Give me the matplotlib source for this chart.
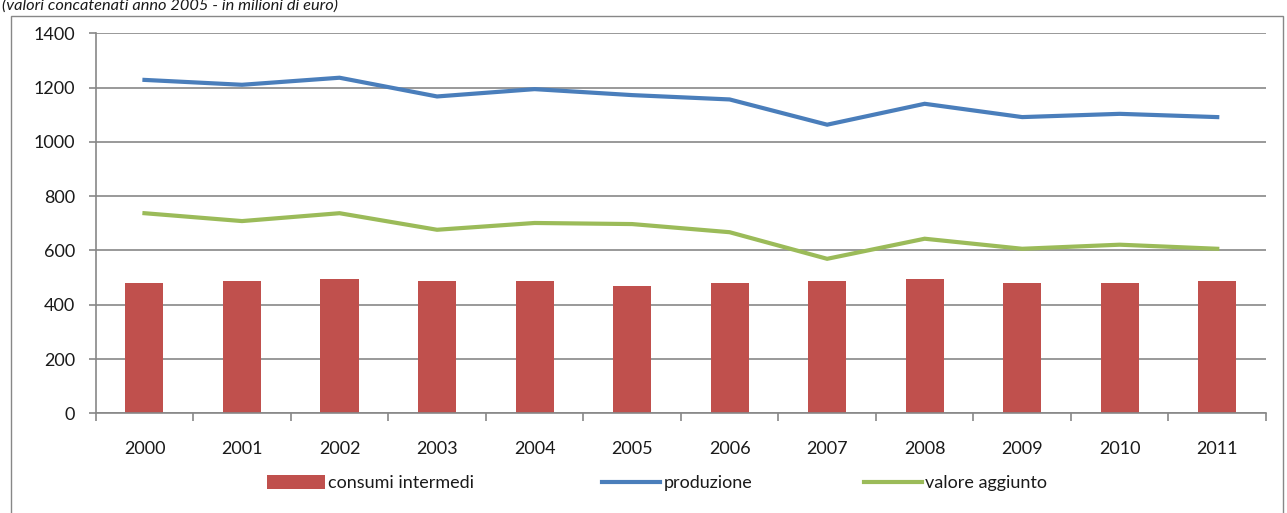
import matplotlib.pyplot as plt
import numpy as np
from matplotlib.patches import Rectangle

# data (valori concatenati anno 2005, milioni di euro)
anni = ["2000", "2001", "2002", "2003", "2004", "2005",
        "2006", "2007", "2008", "2009", "2010", "2011"]
consumi_intermedi = [481, 488, 496, 488, 488, 469, 481, 488, 496, 481, 481, 488]
produzione = [1228, 1210, 1236, 1167, 1194, 1172, 1156, 1063, 1140, 1091, 1103, 1091]
valore_aggiunto = [737, 708, 737, 676, 701, 697, 667, 569, 643, 606, 621, 606]
y_ticks = [0, 200, 400, 600, 800, 1000, 1200, 1400]

RED = "#C0504D"
BLUE = "#4A7EBB"
GREEN = "#9BBB59"
GRID = "#878787"
TXT = "#1a1a1a"

W, H = 1287, 513
plt.rcParams["font.family"] = ["Lato", "DejaVu Sans"]

fig = plt.figure(figsize=(W / 100, H / 100), dpi=100)
fig.patch.set_facecolor("white")

# outer chart frame (cut at the bottom, as in the screenshot)
fig.patches.append(Rectangle((11 / W, -0.1), (1283 - 11) / W, 1.1 - 16 / H,
                             transform=fig.transFigure, fill=False,
                             edgecolor=GRID, lw=1.0))

# caption, partly cut at the top
fig.text(2 / W, 1 - 10 / H, "(valori concatenati anno 2005 - in milioni di euro)",
         fontsize=11.8, style="italic", color=TXT, ha="left", va="baseline")

ax = fig.add_axes([95.7 / W, 1 - 413.3 / H, (1266 - 95.7) / W, (413.3 - 33.2) / H])

x = np.arange(len(anni))
bars = ax.bar(x, consumi_intermedi, width=0.39, color=RED, zorder=2,
              label="consumi intermedi")
l_prod, = ax.plot(x, produzione, color=BLUE, lw=3.0, zorder=3,
                  solid_joinstyle="miter", label="produzione")
l_va, = ax.plot(x, valore_aggiunto, color=GREEN, lw=3.0, zorder=3,
                solid_joinstyle="miter", label="valore aggiunto")

ax.set_xlim(-0.5, len(anni) - 0.5)
ax.set_ylim(0, 1400)
ax.set_yticks(y_ticks)
ax.set_yticklabels([str(v) for v in y_ticks])
ax.set_xticks(x)
ax.set_xticklabels(anni)
ax.set_xticks(np.arange(len(anni) + 1) - 0.5, minor=True)

ax.yaxis.grid(True, color=GRID, lw=1.2, zorder=0)
ax.set_axisbelow(True)

for side in ("top", "right"):
    ax.spines[side].set_visible(False)
for side in ("left", "bottom"):
    ax.spines[side].set_color(GRID)
    ax.spines[side].set_linewidth(1.2)

ax.tick_params(axis="y", length=5, width=1.2, color=GRID, labelsize=13,
               labelcolor=TXT, pad=10)
ax.tick_params(axis="x", which="major", length=0, labelsize=13,
               labelcolor=TXT, pad=20)
ax.tick_params(axis="x", which="minor", length=6, width=1.2, color=GRID)

# legend entries placed like the Excel legend
entries = [(bars, "consumi intermedi", 258), (l_prod, "produzione", 593),
           (l_va, "valore aggiunto", 855)]
for handle, label, xpos in entries:
    leg = fig.legend([handle], [label], loc="center left",
                     bbox_to_anchor=(xpos / W, 1 - 483 / H), frameon=False,
                     fontsize=13, borderpad=0, handlelength=3.2,
                     handleheight=0.8, handletextpad=0.2)
    for t in leg.get_texts():
        t.set_color(TXT)

fig.savefig("out.png", dpi=100, facecolor="white")
